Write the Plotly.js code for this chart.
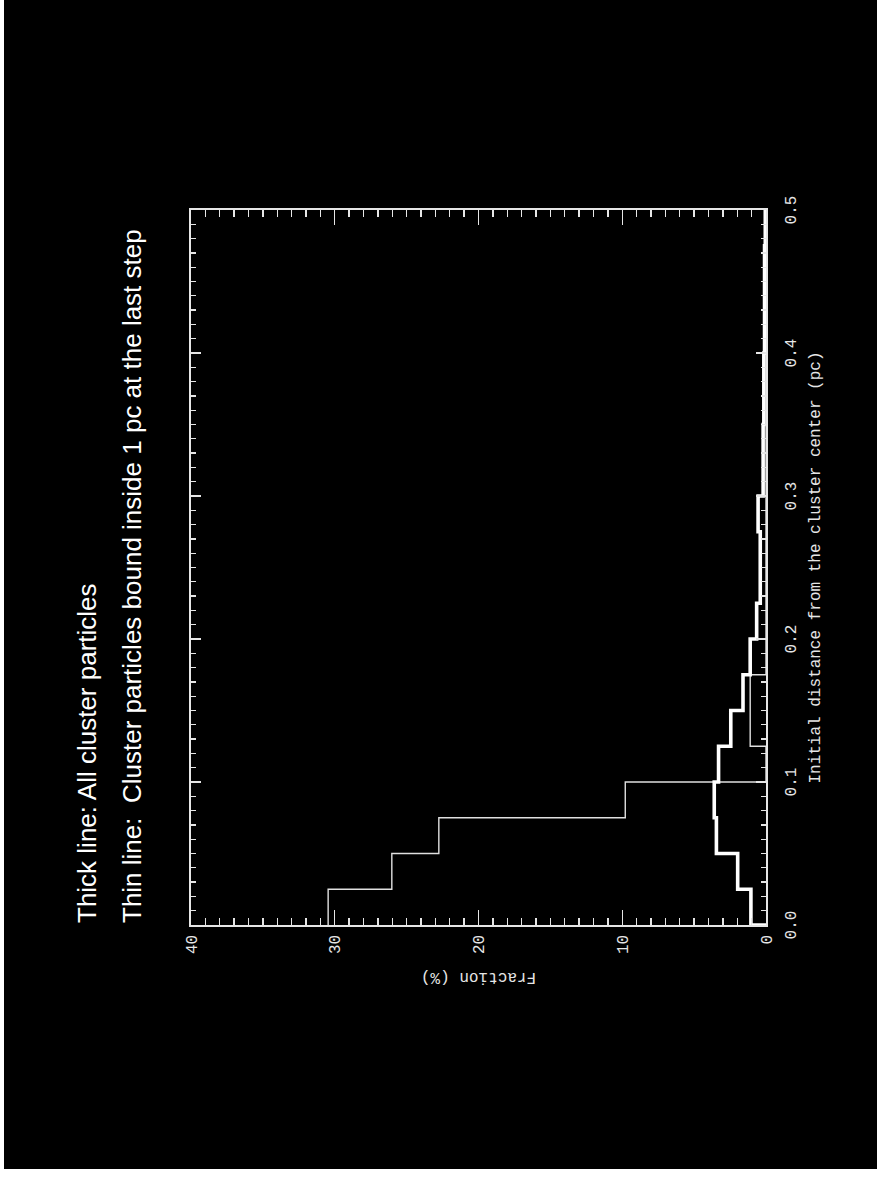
<!DOCTYPE html>
<html>
<head>
<meta charset="utf-8">
<script src="https://cdn.plot.ly/plotly-3.0.1.min.js"></script>
<style>
  html, body { margin: 0; padding: 0; background: #ffffff; width: 877px; height: 1177px; overflow: hidden; }
  #chart { position: absolute; left: 0; top: 0; width: 1177px; height: 877px;
           transform-origin: 0 0; transform: translate(0px, 1177px) rotate(-90deg); }
  .strip { position: absolute; background: #ffffff; z-index: 5; }
</style>
</head>
<body>
<div id="chart"></div>
<div class="strip" style="left:0;top:0;width:4px;height:1177px;"></div>
<div class="strip" style="left:0;top:1169px;width:877px;height:8px;"></div>
<script>
// Bin edges of the histogram (initial distance, pc)
const binEdges = [0.0, 0.025, 0.05, 0.075, 0.1, 0.125, 0.15, 0.175, 0.2, 0.225,
                  0.25, 0.275, 0.3, 0.325, 0.35, 0.375, 0.4, 0.425, 0.45, 0.475, 0.5];
// Thick line: all cluster particles (fraction, %)
const allParticles = [1.05, 1.97, 3.45, 3.6, 3.3, 2.45, 1.6, 1.1, 0.65, 0.4,
                      0.4, 0.55, 0.2, 0.2, 0.15, 0.15, 0.1, 0.1, 0.1, 0.05];
// Thin line: cluster particles bound inside 1 pc at the last step (fraction, %)
const boundParticles = [30.46, 26.03, 22.76, 9.79, 0.0, 1.1, 1.1, 0.0, 0.0, 0.0,
                        0.0, 0.0, 0.0, 0.0, 0.0, 0.0, 0.0, 0.0, 0.0, 0.0];
const distTicks = [0.0, 0.1, 0.2, 0.3, 0.4, 0.5];
const distTickText = ["0.0", "0.1", "0.2", "0.3", "0.4", "0.5"];
const fracTicks = [0, 10, 20, 30, 40];
const fracTickText = ["0", "10", "20", "30", "40"];
const titleLines = ["Thick line: All cluster particles",
                    "Thin line:  Cluster particles bound inside 1 pc at the last step"];
const xTitle = "Initial distance from the cluster center (pc)";
const yTitle = "Fraction (%)";

function stepTrace(vals, startAtZero, width, color) {
  const x = [], y = [];
  if (startAtZero) { x.push(binEdges[0]); y.push(0); }
  for (let i = 0; i < vals.length; i++) { x.push(binEdges[i]); y.push(vals[i]); }
  x.push(binEdges[binEdges.length - 1]); y.push(vals[vals.length - 1]);
  return { x: x, y: y, type: 'scatter', mode: 'lines',
           line: { shape: 'hv', width: width, color: color }, hoverinfo: 'skip' };
}

const axisFont = { family: 'Liberation Mono, DejaVu Sans Mono, monospace', size: 16, color: '#e6e6e6' };
const titleFontAx = { family: 'Liberation Mono, DejaVu Sans Mono, monospace', size: 16, color: '#e6e6e6' };

const data = [
  stepTrace(boundParticles, false, 1.4, '#e0e0e0'),
  stepTrace(allParticles, true, 3.6, '#ffffff')
];

const plotTop = 191, plotBottom = 766;
function paperY(v) { return (plotBottom - v) / (plotBottom - plotTop); }

const layout = {
  width: 1177, height: 877,
  paper_bgcolor: '#000000', plot_bgcolor: '#000000',
  margin: { l: 252, r: 210, t: 191, b: 111 },
  showlegend: false,
  xaxis: {
    range: [0, 0.5], tickvals: distTicks, ticktext: distTickText,
    ticks: 'inside', ticklen: 10, tickwidth: 1.3, tickcolor: '#e6e6e6',
    minor: { dtick: 0.01, ticks: 'inside', ticklen: 5, tickwidth: 1.3, tickcolor: '#e6e6e6' },
    showline: true, linecolor: '#e6e6e6', linewidth: 1.6, mirror: 'allticks',
    showgrid: false, zeroline: false, tickfont: axisFont, ticklabelstandoff: 9,
    title: { text: xTitle, font: titleFontAx, standoff: 9 }, automargin: false
  },
  yaxis: {
    range: [0, 40], tickvals: fracTicks, ticktext: fracTickText,
    ticks: 'inside', ticklen: 15, tickwidth: 1.3, tickcolor: '#e6e6e6',
    minor: { dtick: 1, ticks: 'inside', ticklen: 7, tickwidth: 1.3, tickcolor: '#e6e6e6' },
    showline: true, linecolor: '#e6e6e6', linewidth: 1.6, mirror: 'allticks',
    showgrid: false, zeroline: false, tickfont: axisFont, ticklabelstandoff: 5,
    title: { text: yTitle, font: titleFontAx, standoff: 14 }, automargin: false
  },
  annotations: [
    { text: titleLines[0], xref: 'paper', yref: 'paper', x: 0, y: paperY(87),
      xanchor: 'left', yanchor: 'middle', showarrow: false,
      font: { family: 'Liberation Sans, Arial, sans-serif', size: 26, color: '#ffffff' } },
    { text: titleLines[1], xref: 'paper', yref: 'paper', x: 0, y: paperY(132),
      xanchor: 'left', yanchor: 'middle', showarrow: false,
      font: { family: 'Liberation Sans, Arial, sans-serif', size: 26, color: '#ffffff' } }
  ]
};

Plotly.newPlot('chart', data, layout, { staticPlot: true, displayModeBar: false });
</script>
</body>
</html>
